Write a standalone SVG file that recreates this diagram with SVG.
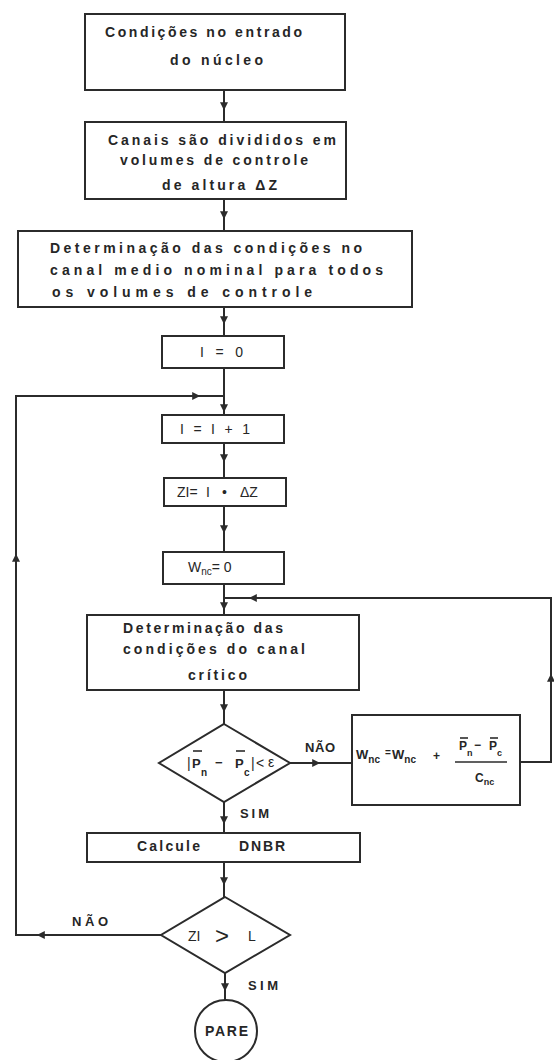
<svg xmlns="http://www.w3.org/2000/svg" width="554" height="1060" viewBox="0 0 554 1060">
<style>
.box{fill:none;stroke:#2b2b2b;stroke-width:2}
.ln{fill:none;stroke:#2b2b2b;stroke-width:2}
.bar{stroke:#2b2b2b;stroke-width:1.6}
text{font-family:"Liberation Sans",Arial,sans-serif;font-weight:bold;font-size:14px;fill:#262626}
.sub{font-size:10px}
.m{font-weight:normal;font-size:14px}
</style>
<defs>
<marker id="arr" viewBox="0 0 10 10" refX="6" refY="5" markerWidth="10" markerHeight="8" markerUnits="userSpaceOnUse" orient="auto">
<path d="M0,0 L10,5 L0,10 z" fill="#2b2b2b"/>
</marker>
</defs>
<rect width="554" height="1060" fill="#ffffff"/>

<g id="connectors">
<path class="ln" marker-mid="url(#arr)" d="M224 90 L224 107 L224 122"/>
<path class="ln" marker-mid="url(#arr)" d="M224 199 L224 216 L224 231"/>
<path class="ln" marker-mid="url(#arr)" d="M224 307 L224 321 L224 336"/>
<path class="ln" d="M224 368 L224 396"/>
<path class="ln" marker-mid="url(#arr)" d="M224 396 L224 409 L224 415"/>
<path class="ln" marker-mid="url(#arr)" d="M16 935 L16 557 L16 396"/>
<path class="ln" marker-mid="url(#arr)" d="M15 396 L197 396 L224 396"/>
<path class="ln" marker-mid="url(#arr)" d="M224 443 L224 459 L224 478"/>
<path class="ln" marker-mid="url(#arr)" d="M224 506 L224 530 L224 552"/>
<path class="ln" d="M224 584 L224 598"/>
<path class="ln" marker-mid="url(#arr)" d="M224 598 L224 607 L224 615"/>
<path class="ln" d="M520 762 L551 762"/>
<path class="ln" marker-mid="url(#arr)" d="M551 763 L551 677 L551 597"/>
<path class="ln" marker-mid="url(#arr)" d="M552 598 L252 598 L224 598"/>
<path class="ln" marker-mid="url(#arr)" d="M224 690 L224 709 L224 724"/>
<path class="ln" marker-mid="url(#arr)" d="M290 763 L317 763 L352 763"/>
<path class="ln" marker-mid="url(#arr)" d="M224 802 L224 821 L224 833"/>
<path class="ln" marker-mid="url(#arr)" d="M224 862 L224 882 L224 897"/>
<path class="ln" marker-mid="url(#arr)" d="M161 935 L40 935 L15 935"/>
<path class="ln" marker-mid="url(#arr)" d="M225 973 L225 988 L225 1000"/>
<text x="305" y="752" style="font-size:13px" textLength="30" lengthAdjust="spacing">NÃO</text>
<text x="240" y="818" style="font-size:13px" textLength="29" lengthAdjust="spacing">SIM</text>
<text x="72" y="926" style="font-size:13px" textLength="36" lengthAdjust="spacing">NÃO</text>
<text x="248" y="990" style="font-size:13px" textLength="30" lengthAdjust="spacing">SIM</text>
</g>

<g id="n1">
<rect class="box" x="85" y="14" width="260" height="76"/>
<text x="105" y="37" textLength="197" lengthAdjust="spacing">Condições no entrado</text>
<text x="170" y="65" textLength="93" lengthAdjust="spacing">do núcleo</text>
</g>

<g id="n2">
<rect class="box" x="85" y="122" width="261" height="77"/>
<text x="108" y="145" textLength="228" lengthAdjust="spacing">Canais são divididos em</text>
<text x="120" y="165" textLength="188" lengthAdjust="spacing">volumes de controle</text>
<text x="162" y="190" textLength="115" lengthAdjust="spacing">de altura ΔZ</text>
</g>

<g id="n3">
<rect class="box" x="18" y="231" width="394" height="76"/>
<text x="50" y="253" textLength="312" lengthAdjust="spacing">Determinação das condições no</text>
<text x="50" y="275" textLength="333" lengthAdjust="spacing">canal medio nominal para todos</text>
<text x="52" y="297" textLength="260" lengthAdjust="spacing">os volumes de controle</text>
</g>

<g id="n4">
<rect class="box" x="162" y="336" width="122" height="32"/>
<text x="200" y="357" class="m" textLength="43" lengthAdjust="spacing">I = 0</text>
</g>

<g id="n5">
<rect class="box" x="162" y="415" width="122" height="28"/>
<text x="180" y="434" class="m" textLength="70" lengthAdjust="spacing">I = I + 1</text>
</g>

<g id="n6">
<rect class="box" x="164" y="478" width="122" height="28"/>
<text y="497" class="m"><tspan x="177">ZI=</tspan><tspan x="206">I</tspan><tspan x="222">•</tspan><tspan x="240">ΔZ</tspan></text>
</g>

<g id="n7">
<rect class="box" x="163" y="552" width="121" height="32"/>
<text x="188" y="572" class="m">W<tspan class="sub" dy="3">nc</tspan><tspan dy="-3">= 0</tspan></text>
</g>

<g id="n8">
<rect class="box" x="87" y="615" width="272" height="75"/>
<text x="123" y="633" textLength="160" lengthAdjust="spacing">Determinação das</text>
<text x="123" y="654" textLength="182" lengthAdjust="spacing">condições do canal</text>
<text x="188" y="680" textLength="59" lengthAdjust="spacing">crítico</text>
</g>

<g id="n9">
<polygon class="box" points="224,724 290,763 224,802 159,763"/>
<text x="187" y="768" class="m">|</text>
<text x="192" y="768" style="font-size:13px">P</text>
<text x="201" y="776" class="sub">n</text>
<text x="215" y="767" style="font-size:13px">−</text>
<text x="235" y="768" style="font-size:13px">P</text>
<text x="244" y="776" class="sub">c</text>
<text x="251" y="768" class="m">|</text>
<text x="256" y="768" class="m">&lt;</text>
<text x="268" y="767" class="m">ε</text>
<line class="bar" x1="193" y1="751" x2="202" y2="751"/>
<line class="bar" x1="236" y1="751" x2="245" y2="751"/>
</g>

<g id="n10">
<rect class="box" x="352" y="715" width="168" height="90"/>
<text x="356" y="759" style="font-size:13px">W<tspan class="sub" dy="4">nc</tspan></text>
<text x="385" y="756" style="font-size:10px">=</text>
<text x="392" y="759" style="font-size:13px">W<tspan class="sub" dy="4">nc</tspan></text>
<text x="433" y="760" style="font-size:12px">+</text>
<text x="459" y="750" style="font-size:12px">P</text>
<text x="467" y="756" style="font-size:9px">n</text>
<text x="474" y="749" style="font-size:12px">−</text>
<text x="489" y="750" style="font-size:12px">P</text>
<text x="497" y="756" style="font-size:9px">c</text>
<line class="bar" x1="460" y1="738" x2="468" y2="738"/>
<line class="bar" x1="490" y1="738" x2="498" y2="738"/>
<line class="bar" x1="455" y1="762" x2="507" y2="762"/>
<text x="475" y="782" style="font-size:12px">C<tspan style="font-size:9px" dy="3">nc</tspan></text>
</g>

<g id="n11">
<rect class="box" x="87" y="833" width="273" height="29"/>
<text x="137" y="851" textLength="63" lengthAdjust="spacing">Calcule</text>
<text x="239" y="851" textLength="46" lengthAdjust="spacing">DNBR</text>
</g>

<g id="n12">
<polygon class="box" points="225,897 290,935 225,973 161,935"/>
<text x="188" y="941" class="m">ZI</text>
<text x="215" y="944" style="font-weight:normal;font-size:24px">&gt;</text>
<text x="248" y="941" class="m">L</text>
</g>

<g id="n13">
<circle class="box" cx="226" cy="1031" r="31"/>
<text x="205" y="1036" textLength="43" lengthAdjust="spacing">PARE</text>
</g>
</svg>
